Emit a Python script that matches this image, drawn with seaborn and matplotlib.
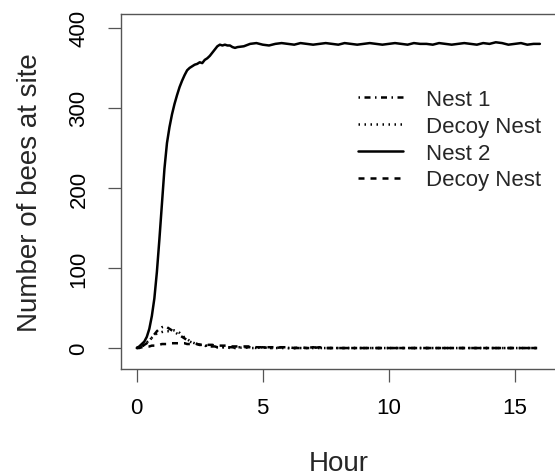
import numpy as np
import pandas as pd
import matplotlib
matplotlib.use("Agg")
import matplotlib.pyplot as plt
import seaborn as sns

# sampling times (hours): fine steps during the rise, coarser afterwards
hours = np.concatenate([np.round(np.arange(0, 4.01, 0.1), 1), np.arange(4.25, 16.01, 0.25)])

# number of bees at each site
nest1 = [0, 1, 2, 4, 6, 9, 13, 17, 21, 24, 26, 27, 26, 24, 22, 20, 18, 16, 14, 12,
         10, 8, 7, 6, 5, 4, 4, 3, 3, 2, 2, 2, 1, 1, 1, 1, 1, 1, 1, 0, 1,
         1, 1, 0, 1, 0, 0, 1, 0,
         0, 0, 0, 1, 0, 0, 0, 0,
         0, 0, 0, 0, 0, 0, 0, 0,
         0, 0, 0, 0, 0, 0, 0, 0,
         0, 0, 0, 0, 0, 0, 0, 0,
         0, 0, 0, 0, 0, 0, 0, 0]
decoy1 = [0, 1, 2, 4, 7, 10, 13, 16, 18, 19, 20, 21, 21, 21, 22, 22, 21, 19, 16, 13,
          11, 9, 7, 6, 5, 4, 3, 3, 2, 2, 2, 1, 1, 1, 1, 1, 1, 0, 1, 0, 0,
          1, 0, 0, 1, 0, 0, 0, 0,
          0, 0, 0, 0, 0, 0, 0, 0,
          0, 0, 0, 0, 0, 0, 0, 0,
          0, 0, 0, 0, 0, 0, 0, 0,
          0, 0, 0, 0, 0, 0, 0, 0,
          0, 0, 0, 0, 0, 0, 0, 0]
nest2 = [0, 2, 5, 8, 14, 24, 40, 62, 95, 136, 180, 224, 256, 276, 292, 305, 316, 326, 334, 341,
         347, 350, 352, 354, 355, 357, 356, 360, 362, 365, 369, 373, 377, 379, 378, 379, 378, 378, 376, 375, 376,
         377, 380, 381, 379, 378, 380, 381, 380,
         379, 381, 380, 379, 380, 381, 380, 379,
         381, 380, 379, 380, 381, 380, 379, 380,
         381, 380, 379, 381, 380, 380, 379, 381,
         380, 379, 380, 381, 380, 379, 381, 380,
         382, 381, 379, 380, 381, 379, 380, 380]
decoy2 = [0, 0, 1, 1, 2, 2, 3, 3, 4, 4, 5, 5, 5, 6, 6, 6, 6, 6, 6, 6,
          5, 5, 5, 5, 5, 4, 4, 4, 4, 4, 4, 3, 3, 3, 3, 3, 3, 2, 2, 2, 2,
          2, 2, 1, 1, 1, 1, 1, 1,
          0, 1, 0, 0, 1, 0, 0, 0,
          0, 0, 0, 0, 0, 0, 0, 0,
          0, 0, 0, 0, 0, 0, 0, 0,
          0, 0, 0, 0, 0, 0, 0, 0,
          0, 0, 0, 0, 0, 0, 0, 0]

labels = ['Nest 1', 'Decoy Nest', 'Nest 2', 'Decoy Nest']
series = [nest1, decoy1, nest2, decoy2]
# R-like line types: dotdash, dotted, solid, dashed
styles = [(0, (0.6, 1.8, 2.4, 1.8)), (0, (0.6, 1.8)), '-', (0, (2.4, 2.4))]

sns.set_style('white')
plt.rcParams['font.family'] = ['Liberation Sans', 'DejaVu Sans']

fig = plt.figure(figsize=(5.55, 4.77), dpi=100)
ax = fig.add_axes([0.2173, 0.2243, 0.7845, 0.7437])

handles = []
for vals, lab, ls in zip(series, labels, styles):
    sns.lineplot(x=hours, y=vals, ax=ax, color='black', linewidth=1.8, linestyle=ls)
    handles.append(ax.lines[-1])

ax.set_xlim(-0.64, 16.64)
ax.set_ylim(-26.2, 417)
ax.set_xticks([0, 5, 10, 15])
ax.set_yticks([0, 100, 200, 300, 400])
ax.tick_params(axis='both', direction='out', length=9.4, width=0.9, colors='#555555',
               labelcolor='black', labelsize=16, left=True, bottom=True)
ax.tick_params(axis='x', pad=11)
ax.tick_params(axis='y', pad=13)
plt.setp(ax.get_yticklabels(), rotation=90, va='center')
for sp in ax.spines.values():
    sp.set_color('#555555')
    sp.set_linewidth(1.0)

ax.set_xlabel('Hour', fontsize=20, labelpad=23)
ax.set_ylabel('Number of bees at site', fontsize=20, labelpad=18)

ax.legend(handles, labels, loc='upper left', bbox_to_anchor=(358 / 555, 1 - 90 / 477),
          bbox_transform=fig.transFigure, frameon=False, fontsize=16, borderpad=0,
          handlelength=2.03, handletextpad=1.04, labelspacing=0.26, borderaxespad=0)

fig.savefig('out.png', dpi=100)
